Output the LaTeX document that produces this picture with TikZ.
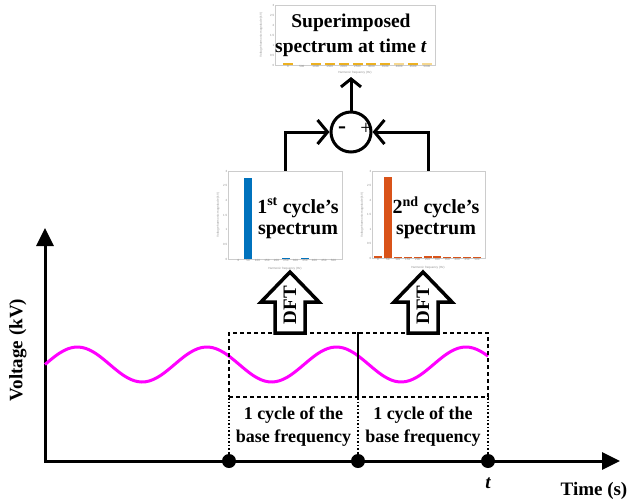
\documentclass[tikz,border=0pt]{standalone}
\usepackage{fontspec}
\setmainfont{Liberation Serif}
\newfontfamily\plotfont{Liberation Sans}
\usepackage{tikz}
\usepackage{xcolor}
\usetikzlibrary{arrows.meta}
\usetikzlibrary{positioning}

\definecolor{matblue}{RGB}{0,114,189}
\definecolor{matorange}{RGB}{217,83,25}
\definecolor{matgold}{RGB}{237,177,32}
\definecolor{wavemag}{RGB}{255,0,255}

\begin{document}
\begin{tikzpicture}[x=1pt,y=-1pt,
  axisline/.style={line width=3pt,{Triangle[length=18pt,width=17pt]}-{Triangle[length=18pt,width=17pt]}},
  dot/.style={circle,fill=black,inner sep=0pt,minimum size=14pt},
  cyclebox/.style={draw,line width=1.8pt,dash pattern=on 4pt off 3pt,inner sep=0pt},
  dotline/.style={line width=1.3pt,dash pattern=on 1.6pt off 2pt},
  blockarrow/.style={draw,fill=white,line width=3.5pt,line join=miter},
  bigtxt/.style={font=\bfseries\fontsize{20}{21}\selectfont,align=center,inner sep=0pt},
  cyctxt/.style={font=\bfseries\fontsize{18}{23}\selectfont,align=center,inner sep=0pt},
  plotframe/.style={draw=black!20,line width=0.4pt,fill=white,inner sep=0pt},
  ticklbl/.style={font=\plotfont\fontsize{3}{3}\selectfont,text=black!45,inner sep=0.5pt},
  sumin/.style={line width=3pt,-{Straight Barb[length=10pt,width=24pt]}},
  sumout/.style={line width=3pt,-{Straight Barb[length=8pt,width=20pt]}}
]
\useasboundingbox (0,0) rectangle (630,501);

% time axis and voltage axis
\coordinate (origin) at (45,461);
\coordinate (yend) at (45,228);
\coordinate (xend) at (620,461);
\draw[axisline] (yend) -- (origin) -- (xend);
\node[font=\bfseries\fontsize{19}{19}\selectfont,rotate=90] (ylab) at (18,350) {Voltage (kV)};
\node[font=\bfseries\fontsize{19}{19}\selectfont] (xlab) at (594,491) {Time (s)};

% voltage waveform
\draw[wavemag,line width=3pt] plot[domain=45:488,samples=120,smooth]
  (\x,{364.5-17.5*sin(2.7799*(\x-45))});

% cycle windows
\node[cyclebox,minimum width=259pt,minimum height=64pt] (win) at (358.5,365) {};
\node[dot] (t0) at (229,461) {};
\node[dot] (t1) at (358,461) {};
\node[dot] (t2) at (488,461) {};
\draw[line width=1.5pt] (t1 |- win.north) -- (t1 |- win.south);
\draw[dotline] (t0 |- win.south) -- (t0);
\draw[dotline] (t1 |- win.south) -- (t1);
\draw[dotline] (t2 |- win.south) -- (t2);
\node[font=\bfseries\itshape\fontsize{19}{19}\selectfont] (tlab) at (488,483) {t};
\node[cyctxt] (cyc1) at (293.5,427) {1 cycle of the\\base frequency};
\node[cyctxt] (cyc2) at (423,427) {1 cycle of the\\base frequency};

% DFT block arrows
\draw[blockarrow] (275,333) -- ++(0,-31) -- ++(-14,0) -- ++(29,-30)
  -- ++(29,30) -- ++(-14,0) -- ++(0,31) -- cycle;
\draw[blockarrow] (408,333) -- ++(0,-31) -- ++(-14,0) -- ++(29,-30)
  -- ++(29,30) -- ++(-14,0) -- ++(0,31) -- cycle;
\node[font=\bfseries\fontsize{19}{19}\selectfont,rotate=90] (dft1) at (290,305) {DFT};
\node[font=\bfseries\fontsize{19}{19}\selectfont,rotate=90] (dft2) at (423,305) {DFT};

% 1st cycle spectrum
\node[plotframe,minimum width=114pt,minimum height=88pt] (sp1) at (285,215) {};
\foreach \k/\v in {1/2.75,5/0.03,7/0.03}
  \fill[matblue] ({238.5+9.5*\k-4},259) rectangle ++(8,{-\v*88/3});
\foreach \k [count=\i from 0] in {0,50,100,150,200,250,300,350,400,450,500}
  \node[ticklbl,below] (sp1x\i) at ({238.5+9.5*\i},259) {\k};
\foreach \v [count=\i] in {0,0.5,1,1.5,2,2.5,3}
  \node[ticklbl,left] (sp1y\i) at (228,{259-\v*88/3}) {\v};
\node[ticklbl] (sp1xl) at (285,269) {Harmonic frequency (Hz)};
\node[ticklbl,rotate=90] (sp1yl) at (218,215) {Voltage harmonic magnitude (kV)};
\node[bigtxt] (sp1t) at (298,218) {1\textsuperscript{st} cycle’s\\spectrum};

% 2nd cycle spectrum
\node[plotframe,minimum width=113pt,minimum height=87pt] (sp2) at (428.5,214.5) {};
\foreach \k/\v in {0/0.06,1/2.78,2/0.05,3/0.05,4/0.05,5/0.06,6/0.06,7/0.05,8/0.05,9/0.04,10/0.04}
  \fill[matorange] ({378+9.9*\k-4},258) rectangle ++(8,{-\v*87/3});
\foreach \k [count=\i from 0] in {0,50,100,150,200,250,300,350,400,450,500}
  \node[ticklbl,below] (sp2x\i) at ({378+9.9*\i},258) {\k};
\foreach \v [count=\i] in {0,0.5,1,1.5,2,2.5,3}
  \node[ticklbl,left] (sp2y\i) at (372,{258-\v*87/3}) {\v};
\node[ticklbl] (sp2xl) at (428,268) {Harmonic frequency (Hz)};
\node[ticklbl,rotate=90] (sp2yl) at (362,215) {Voltage harmonic magnitude (kV)};
\node[bigtxt] (sp2t) at (436,218) {2\textsuperscript{nd} cycle’s\\spectrum};

% superimposed spectrum
\node[plotframe,minimum width=160pt,minimum height=60pt] (spt) at (355,35) {};
\foreach \k/\c in {0/100,2/100,3/100,4/100,5/100,6/100,7/100,8/50,9/100,10/50}
  \fill[matgold!\c] ({288+13.9*\k-5},65) rectangle ++(10,-2);
\foreach \k [count=\i from 0] in {0,500,1000,1500,2000,2500,3000,3500,4000,4500,5000}
  \node[ticklbl,below] (sptx\i) at ({288+13.9*\i},65) {\k};
\foreach \v [count=\i] in {0,0.5,1,1.5,2,2.5,3}
  \node[ticklbl,left] (spty\i) at (275,{65-\v*60/3}) {\v};
\node[ticklbl] (sptxl) at (355,73) {Harmonic frequency (Hz)};
\node[ticklbl,rotate=90] (sptyl) at (261,35) {Voltage harmonic magnitude (kV)};
\node[bigtxt,font=\bfseries\fontsize{19.5}{25}\selectfont] (sptt) at (351,35) {Superimposed\\spectrum at time \textit{t}};

% summing junction
\node[circle,draw,line width=3pt,minimum size=40pt,inner sep=0pt] (sum) at (351,132) {};
\node[font=\bfseries\fontsize{24}{24}\selectfont,inner sep=0pt] (minus) at (342,130) {-};
\node[font=\fontsize{20}{20}\selectfont,inner sep=0pt] (plus) at (366,129) {+};
\coordinate (spttip) at (351,77);
\draw[sumin] (sp1.north) |- (sum.west);
\draw[sumin] (sp2.north) |- (sum.east);
\draw[sumout] (sum.north) -- (spttip);
\end{tikzpicture}
\end{document}
